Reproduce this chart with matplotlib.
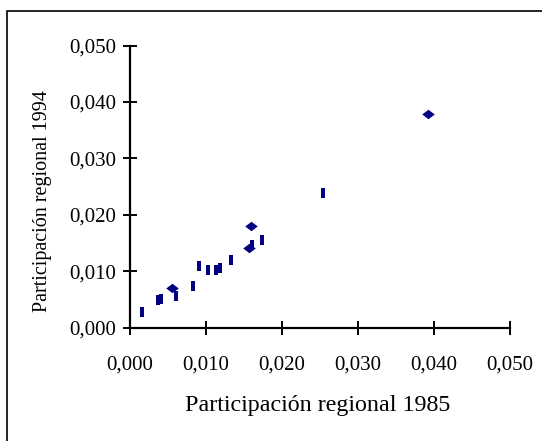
import matplotlib
matplotlib.use("Agg")
import matplotlib.pyplot as plt
from matplotlib.patches import Rectangle

# regional shares, 1985 vs 1994
bar_1985 = [0.0017, 0.0038, 0.0042, 0.0061, 0.0084, 0.0092, 0.0103, 0.0114,
            0.0119, 0.0134, 0.0161, 0.0174, 0.0254]
bar_1994 = [0.0027, 0.0048, 0.0050, 0.0055, 0.0073, 0.0109, 0.0102, 0.0102,
            0.0106, 0.0120, 0.0147, 0.0156, 0.0238]
diamond_1985 = [0.0056, 0.0157, 0.0160, 0.0393]
diamond_1994 = [0.0070, 0.0141, 0.0180, 0.0378]

ticks = [0.0, 0.01, 0.02, 0.03, 0.04, 0.05]
tick_labels = ["0,000", "0,010", "0,020", "0,030", "0,040", "0,050"]

plt.rcParams['font.family'] = ['Liberation Serif', 'DejaVu Serif']

fig = plt.figure(figsize=(5.42, 4.41), dpi=100)
ax = fig.add_axes([129.5 / 542, 1 - 327.5 / 441, 380 / 542, 282 / 441])

navy = '#000080'
bar_marker = [(-0.15, -0.5), (0.15, -0.5), (0.15, 0.5), (-0.15, 0.5), (-0.15, -0.5)]
diamond_marker = [(-0.5, 0), (0, 0.38), (0.5, 0), (0, -0.38), (-0.5, 0)]
ax.plot(bar_1985, bar_1994, linestyle='none', marker=bar_marker,
        markersize=7.5, color=navy, markeredgewidth=0, clip_on=False)
ax.plot(diamond_1985, diamond_1994, linestyle='none', marker=diamond_marker,
        markersize=9, color=navy, markeredgewidth=0, clip_on=False)

ax.set_xlim(0, 0.05)
ax.set_ylim(0, 0.05)
ax.set_xticks(ticks)
ax.set_xticklabels(tick_labels)
ax.set_yticks(ticks)
ax.set_yticklabels(tick_labels)
ax.tick_params(direction='inout', length=10, width=1.4, labelsize=15)
ax.tick_params(axis='x', pad=15.5)
ax.tick_params(axis='y', pad=4.5)

ax.spines[['top', 'right']].set_visible(False)
for side in ['left', 'bottom']:
    ax.spines[side].set_linewidth(1.6)

ax.set_xlabel("Participación regional 1985", fontsize=17.3, va='center')
ax.xaxis.set_label_coords(0.495, -0.275)
ax.set_ylabel("Participación regional 1994", fontsize=14.5, va='center')
ax.yaxis.set_label_coords(-0.230, 0.449)

# outer chart frame (only top and left visible in the crop)
fig.patches.append(Rectangle((7 / 542, -0.05), 1.2, 1 - 11 / 441 + 0.05,
                             transform=fig.transFigure, fill=False,
                             edgecolor='black', linewidth=1.2))

fig.savefig("out.png", dpi=100)
